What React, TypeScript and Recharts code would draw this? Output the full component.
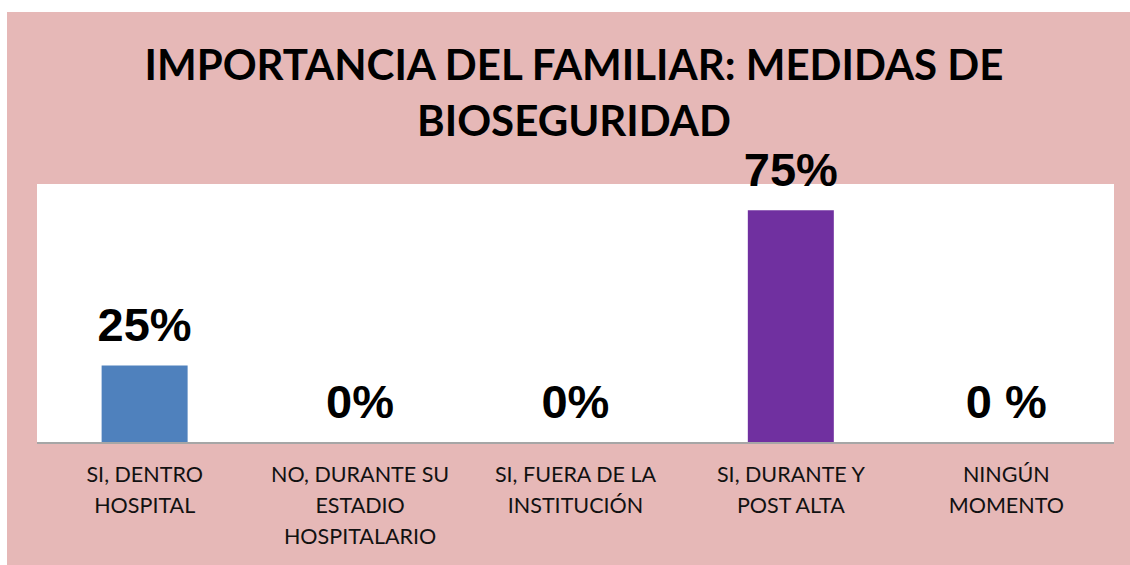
import React from "react";
import { BarChart, Bar, XAxis, YAxis, CartesianGrid, Cell, LabelList } from "recharts";

const categories = [
  "SI, DENTRO\nHOSPITAL",
  "NO, DURANTE SU\nESTADIO\nHOSPITALARIO",
  "SI, FUERA DE LA\nINSTITUCIÓN",
  "SI, DURANTE Y\nPOST ALTA",
  "NINGÚN\nMOMENTO",
];
const values = [25, 0, 0, 75, 0];
const valueLabels = ["25%", "0%", "0%", "75%", "0 %"];
const barColors = ["#4F81BD", "transparent", "transparent", "#7030A0", "transparent"];
const titleLines = ["IMPORTANCIA DEL FAMILIAR: MEDIDAS DE", "BIOSEGURIDAD"];

const data = categories.map((c, i) => ({ name: c, value: values[i], label: valueLabels[i] }));

const PINK = "#E6B8B7";

const Tick = (props: any) => {
  const { x, y, payload } = props;
  const lines = String(payload.value).split("\n");
  return (
    <g>
      {lines.map((l: string, i: number) => (
        <text
          key={i}
          x={x}
          y={y + 43 - 12 + i * 31}
          textAnchor="middle"
          fontFamily="Lato, 'Open Sans', sans-serif"
          fontSize={21.5}
          fill="#111"
        >
          {l}
        </text>
      ))}
    </g>
  );
};

const ValueLabel = (props: any) => {
  const { x, y, width, value } = props;
  return (
    <text
      x={x + width / 2}
      y={y - 24}
      textAnchor="middle"
      fontFamily="'Liberation Sans', Arial, sans-serif"
      fontWeight="bold"
      fontSize={47}
      fill="#000"
    >
      {value}
    </text>
  );
};

export default function App() {
  return (
    <div
      style={{
        position: "absolute",
        left: 7,
        top: 12,
        width: 1123,
        height: 553,
        background: PINK,
        overflow: "hidden",
      }}
    >
      <div
        style={{
          position: "absolute",
          left: 0,
          width: 1134,
          top: 24,
          textAlign: "center",
          fontFamily: "Lato, 'Open Sans', sans-serif",
          fontWeight: 700,
          fontSize: 42,
          lineHeight: "56px",
          color: "#000",
        }}
      >
        {titleLines.map((t, i) => (
          <div key={i}>{t}</div>
        ))}
      </div>
      <div style={{ position: "absolute", left: 0, top: 0 }}>
        <BarChart
          width={1123}
          height={553}
          data={data}
          margin={{ top: 172, right: 16, bottom: 62, left: 30 }}
          barCategoryGap="30%"
        >
          <CartesianGrid fill="#FFFFFF" stroke="none" horizontal={false} vertical={false} />
          <XAxis
            dataKey="name"
            height={60}
            interval={0}
            tickLine={false}
            axisLine={{ stroke: "#A6A6A6", strokeWidth: 2 }}
            tick={<Tick />}
          />
          <YAxis hide domain={[0, 83.5]} />
          <Bar dataKey="value" isAnimationActive={false} minPointSize={1}>
            {data.map((d, i) => (
              <Cell key={i} fill={barColors[i]} />
            ))}
            <LabelList dataKey="label" content={<ValueLabel />} />
          </Bar>
        </BarChart>
      </div>
    </div>
  );
}
